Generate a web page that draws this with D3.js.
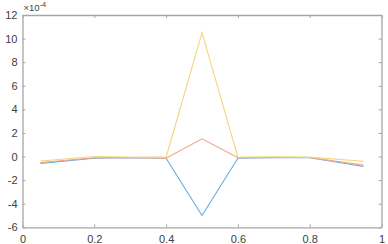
<!DOCTYPE html>
<html><head><meta charset="utf-8">
<script src="https://cdn.jsdelivr.net/npm/d3@7"></script>
<style>body{margin:0;background:#fff}svg{display:block}text{font-family:"Liberation Sans",Arial,sans-serif}</style>
</head><body>
<svg id="c" width="388" height="244"></svg>
<script>
const xs = [0.05, 0.2, 0.3, 0.4, 0.5, 0.6, 0.7, 0.8, 0.95];
const blue = [-0.58, -0.15, -0.1, -0.15, -5.0, -0.15, -0.1, -0.1, -0.85];
const red = [-0.5, -0.1, -0.08, -0.15, 1.5, -0.1, -0.08, -0.08, -0.73];
const yellow = [-0.38, 0.0, -0.05, -0.05, 10.5, -0.05, -0.02, -0.05, -0.4];
const seriesNames = ["blue", "red", "yellow"];
const colors = ["#66ade2", "#f0a58a", "#f7d47a"];
const xTicks = [0, 0.2, 0.4, 0.6, 0.8, 1];
const yTicks = [-6, -4, -2, 0, 2, 4, 6, 8, 10, 12];

const svg = d3.select("#c");
const L = 22.5, R = 381.5, T = 15, B = 227.3;
const x = d3.scaleLinear().domain([0, 1]).range([L, R]);
const y = d3.scaleLinear().domain([-6, 12]).range([B, T]);
const axisColor = "#a6a6a6", textColor = "#404040";

const gx = svg.append("g").attr("transform", `translate(0,${B})`)
  .call(d3.axisBottom(x).tickValues(xTicks).tickFormat(d3.format("")).tickSizeInner(-3).tickSizeOuter(0).tickPadding(8));
const gxt = svg.append("g").attr("transform", `translate(0,${T})`)
  .call(d3.axisTop(x).tickValues(xTicks).tickFormat("").tickSizeInner(-3).tickSizeOuter(0));
const gy = svg.append("g").attr("transform", `translate(${L},0)`)
  .call(d3.axisLeft(y).tickValues(yTicks).tickFormat(d3.format("")).tickSizeInner(-3).tickSizeOuter(0).tickPadding(5));
const gyr = svg.append("g").attr("transform", `translate(${R},0)`)
  .call(d3.axisRight(y).tickValues(yTicks).tickFormat("").tickSizeInner(-3).tickSizeOuter(0));
[gx, gxt, gy, gyr].forEach(g => {
  g.selectAll("path.domain").attr("stroke", axisColor).attr("stroke-width", 1.3);
  g.selectAll(".tick line").attr("stroke", axisColor);
  g.selectAll(".tick text").attr("fill", textColor).attr("font-size", 11);
});
gy.selectAll(".tick text").text(d => d < 0 ? "-" + Math.abs(d) : d);

svg.append("text").attr("x", L + 1).attr("y", T - 4).attr("fill", textColor).attr("font-size", 9.5)
  .text("\u00d710").append("tspan").attr("dy", -4).attr("font-size", 7.5).text("-4");

const line = d3.line().x((d, i) => x(xs[i])).y(d => y(d));
[blue, red, yellow].forEach((s, k) => {
  svg.append("path").datum(s).attr("fill", "none").attr("stroke", colors[k]).attr("stroke-width", 1.1).attr("d", line);
});
</script>
</body></html>
